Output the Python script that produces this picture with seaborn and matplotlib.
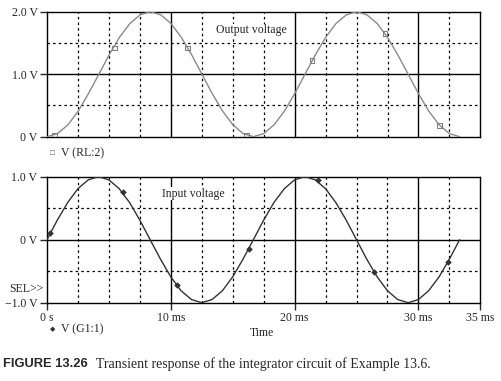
import matplotlib
matplotlib.use("Agg")
import matplotlib.pyplot as plt
import seaborn as sns
import pandas as pd

# ---- data ----
time_ms = [0.0, 0.83, 1.67, 2.5, 3.33, 4.17, 5.0, 5.83, 6.67, 7.5, 8.33,
           9.17, 10.0, 10.83, 11.67, 12.5, 13.33, 14.17, 15.0, 15.83, 16.67,
           17.5, 18.33, 19.17, 20.0, 20.83, 21.67, 22.5, 23.33, 24.17, 25.0,
           25.83, 26.67, 27.5, 28.33, 29.17, 30.0, 30.83, 31.67, 32.5, 33.33]
output_v = [0.0, 0.05, 0.19, 0.41, 0.69, 1.0, 1.31, 1.59, 1.81, 1.95, 2.0,
            1.95, 1.81, 1.59, 1.31, 1.0, 0.69, 0.41, 0.19, 0.05, 0.0,
            0.05, 0.19, 0.41, 0.69, 1.0, 1.31, 1.59, 1.81, 1.95, 2.0,
            1.95, 1.81, 1.59, 1.31, 1.0, 0.69, 0.41, 0.19, 0.05, 0.0]
input_v = [0.0, 0.31, 0.59, 0.81, 0.95, 1.0, 0.95, 0.81, 0.59, 0.31, 0.0,
           -0.31, -0.59, -0.81, -0.95, -1.0, -0.95, -0.81, -0.59, -0.31, 0.0,
           0.31, 0.59, 0.81, 0.95, 1.0, 0.95, 0.81, 0.59, 0.31, 0.0,
           -0.31, -0.59, -0.81, -0.95, -1.0, -0.95, -0.81, -0.59, -0.31, 0.0]

out_marker_t = [0.6, 5.4, 11.3, 16.1, 21.4, 27.3, 31.7]
out_marker_v = [0.02, 1.42, 1.42, 0.02, 1.22, 1.65, 0.18]
in_marker_t = [0.24, 6.1, 10.5, 16.3, 21.9, 26.4, 32.4]
in_marker_v = [0.10, 0.76, -0.72, -0.14, 0.94, -0.51, -0.36]

x_ticks = [0, 10, 20, 30, 35]
x_tick_labels = ["0 s", "10 ms", "20 ms", "30 ms", "35 ms"]
top_y_ticks = [0, 1, 2]
top_y_labels = ["0 V", "1.0 V", "2.0 V"]
bot_y_ticks = [-1, 0, 1]
bot_y_labels = ["\u22121.0 V", "0 V", "1.0 V"]

df_line = pd.DataFrame({"t": time_ms, "out": output_v, "inp": input_v})
df_om = pd.DataFrame({"t": out_marker_t, "v": out_marker_v})
df_im = pd.DataFrame({"t": in_marker_t, "v": in_marker_v})

sns.set_style("white")
plt.rcParams["font.family"] = ["Liberation Serif", "DejaVu Serif"]

W, H = 501, 381
fig = plt.figure(figsize=(W / 100, H / 100), dpi=100)

def box(l, t, r, b):
    return [l / W, 1 - b / H, (r - l) / W, (b - t) / H]

ax1 = fig.add_axes(box(47.3, 11.7, 480.3, 136.7))
ax2 = fig.add_axes(box(47.0, 176.7, 480.3, 302.7))

def style(ax, ylim, yticks, ylabels, minor_y, show_x):
    ax.set_xlim(0, 35)
    ax.set_ylim(*ylim)
    for s in ax.spines.values():
        s.set_color("black")
        s.set_linewidth(1.0)
    # grid
    for x in [2.5, 5, 7.5, 12.5, 15, 17.5, 22.5, 25, 27.5, 32.5]:
        ax.axvline(x, color="black", lw=0.9, ls=(0, (2, 2.5)), zorder=1)
    for x in [10, 20, 30]:
        ax.axvline(x, color="black", lw=1.0, zorder=1)
    for y in minor_y:
        ax.axhline(y, color="black", lw=0.9, ls=(0, (2, 2.5)), zorder=1)
    for y in yticks[1:-1]:
        ax.axhline(y, color="black", lw=1.0, zorder=1)
    ax.set_yticks(yticks)
    ax.set_yticklabels(ylabels, fontsize=8.5)
    ax.tick_params(axis="y", direction="out", length=5, width=1.0, pad=2, left=True)
    ax.set_xticks(x_ticks)
    if show_x:
        ax.set_xticklabels(x_tick_labels, fontsize=8.5)
        ax.tick_params(axis="x", direction="out", length=5, width=1.0, pad=2, bottom=True)
    else:
        ax.set_xticklabels([])
        ax.tick_params(axis="x", length=0)
    ax.set_xlabel("")
    ax.set_ylabel("")

sns.lineplot(data=df_line, x="t", y="out", ax=ax1, color="#8a8a8a", lw=1.0, zorder=3)
sns.scatterplot(data=df_om, x="t", y="v", ax=ax1, marker="s", s=12,
                facecolor="none", edgecolor="#808080", linewidth=0.8, zorder=4)
style(ax1, (0, 2), top_y_ticks, top_y_labels, [0.5, 1.5], False)
ax1.text(13.6, 1.7, "Output voltage", fontsize=8.5, ha="left", va="center",
         zorder=5, bbox=dict(facecolor="white", edgecolor="none", pad=0.5))

sns.lineplot(data=df_line, x="t", y="inp", ax=ax2, color="#333333", lw=1.0, zorder=3)
sns.scatterplot(data=df_im, x="t", y="v", ax=ax2, marker="D", s=8,
                color="#333333", edgecolor="#333333", linewidth=0.5, zorder=4)
style(ax2, (-1, 1), bot_y_ticks, bot_y_labels, [-0.5, 0.5], True)
ax2.text(9.3, 0.73, "Input voltage", fontsize=8.5, ha="left", va="center",
         zorder=5, bbox=dict(facecolor="white", edgecolor="none", pad=0.5))

# legends / labels in figure coordinates
fig.text(50 / W, 1 - 153 / H, "\u25a1", fontsize=6, color="#666666", va="center", ha="left")
fig.text(61 / W, 1 - 153 / H, "V (RL:2)", fontsize=8.5, va="center", ha="left")
fig.text(50 / W, 1 - 329 / H, "\u25c6", fontsize=5, color="#333333", va="center", ha="left")
fig.text(61 / W, 1 - 329 / H, "V (G1:1)", fontsize=8.5, va="center", ha="left")
fig.text(9 / W, 1 - 289 / H, "SEL>>", fontsize=8.5, va="center", ha="left")
fig.text(250 / W, 1 - 333 / H, "Time", fontsize=8.5, va="center", ha="left")

fig.text(3 / W, 1 - 364 / H, "FIGURE 13.26", fontsize=9.3, fontweight="bold",
         family=["Liberation Sans", "DejaVu Sans"], va="center", ha="left")
fig.text(96 / W, 1 - 364 / H,
         "Transient response of the integrator circuit of Example 13.6.",
         fontsize=10, va="center", ha="left")

fig.savefig("out.png", dpi=100)
